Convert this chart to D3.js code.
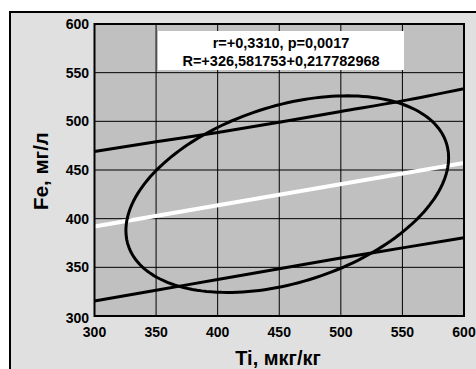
<!DOCTYPE html>
<html>
<head>
<meta charset="utf-8">
<script src="https://cdn.jsdelivr.net/npm/d3@7"></script>
<style>
  body { margin: 0; background: #fff; }
  svg { display: block; font-family: "Liberation Sans", Arial, sans-serif; font-weight: bold; }
</style>
</head>
<body>
<div id="chart"></div>
<script>
// values
const xTicks = [300, 350, 400, 450, 500, 550, 600];
const yTicks = [300, 350, 400, 450, 500, 550, 600];
const upperBand = [469, 479, 488.5, 499, 510, 521, 533.5];
const lowerBand = [315.5, 326.5, 337.5, 348.5, 359.5, 370, 380.5];
const regCoef = [326.581753, 0.217782968];
const ellipseCenter = [456.5, 425.2];
const ellipseRadius = [131, 101];
const ellipseTilt = 0.37;
const statLines = ["r=+0,3310, p=0,0017", "R=+326,581753+0,217782968"];

const width = 476, height = 369;
const plot = { left: 94.5, right: 464, top: 24, bottom: 316 };

const svg = d3.select("#chart").append("svg")
    .attr("width", width)
    .attr("height", height);

// outer panel
svg.append("rect")
   .attr("x", 10).attr("y", 12)
   .attr("width", width).attr("height", height)
   .attr("fill", "#e0e0e0");
svg.append("path")
   .attr("d", `M10,${height} V12 H${width}`)
   .attr("fill", "none").attr("stroke", "#000").attr("stroke-width", 2);

let x = d3.scaleLinear().domain([300, 600]).range([plot.left, plot.right]);
let y = d3.scaleLinear().domain([300, 600]).range([plot.bottom, plot.top]);

const g = svg.append("g");

g.append("rect")
 .attr("x", plot.left).attr("y", plot.top)
 .attr("width", plot.right - plot.left).attr("height", plot.bottom - plot.top)
 .attr("fill", "#c0c0c0");

// grid
g.selectAll(".vgrid").data(xTicks).enter().append("line")
 .attr("x1", d => x(d)).attr("x2", d => x(d))
 .attr("y1", plot.top).attr("y2", plot.bottom)
 .attr("stroke", "#000").attr("stroke-width", 1);
g.selectAll(".hgrid").data(yTicks).enter().append("line")
 .attr("y1", d => y(d)).attr("y2", d => y(d))
 .attr("x1", plot.left).attr("x2", plot.right)
 .attr("stroke", "#000").attr("stroke-width", 1);

// stats box
g.append("rect")
 .attr("x", 158).attr("y", 31).attr("width", 246).attr("height", 39)
 .attr("fill", "#fff");
g.selectAll(".stat").data(statLines).enter().append("text")
 .attr("x", 281)
 .attr("y", (d, i) => 47.5 + i * 18.3)
 .attr("text-anchor", "middle")
 .attr("font-size", 14.5)
 .text(d => d);

const clip = svg.append("clipPath").attr("id", "clip")
  .append("rect")
  .attr("x", plot.left).attr("y", plot.top)
  .attr("width", plot.right - plot.left).attr("height", plot.bottom - plot.top);

const marks = g.append("g").attr("clip-path", "url(#clip)");

const bandLine = d3.line()
  .x((d, i) => x(xTicks[i]))
  .y(d => y(d))
  .curve(d3.curveMonotoneX);

marks.append("path").datum(upperBand)
 .attr("d", bandLine)
 .attr("fill", "none").attr("stroke", "#000").attr("stroke-width", 3);
marks.append("path").datum(lowerBand)
 .attr("d", bandLine)
 .attr("fill", "none").attr("stroke", "#000").attr("stroke-width", 3);

// regression line
marks.append("line")
 .attr("x1", x(300)).attr("y1", y(regCoef[0] + regCoef[1] * 300))
 .attr("x2", x(600)).attr("y2", y(regCoef[0] + regCoef[1] * 600))
 .attr("stroke", "#fff").attr("stroke-width", 4);

// ellipse
const ell = d3.range(0, 2 * Math.PI + 0.01, Math.PI / 90).map(t => [
  ellipseCenter[0] + ellipseRadius[0] * Math.cos(t),
  ellipseCenter[1] + ellipseRadius[1] * (ellipseTilt * Math.cos(t) + Math.sqrt(1 - ellipseTilt * ellipseTilt) * Math.sin(t))
]);
marks.append("path").datum(ell)
 .attr("d", d3.line().x(d => x(d[0])).y(d => y(d[1])))
 .attr("fill", "none").attr("stroke", "#000").attr("stroke-width", 3);

// frame
g.append("rect")
 .attr("x", plot.left).attr("y", plot.top)
 .attr("width", plot.right - plot.left).attr("height", plot.bottom - plot.top)
 .attr("fill", "none").attr("stroke", "#000").attr("stroke-width", 2);

// tick labels
g.selectAll(".ylab").data(yTicks).enter().append("text")
 .attr("x", 89)
 .attr("y", d => y(d) + 5 + (d === 300 ? 2 : 0))
 .attr("text-anchor", "end")
 .attr("font-size", 14)
 .text(d => d);
g.selectAll(".xlab").data(xTicks).enter().append("text")
 .attr("x", d => x(d))
 .attr("y", 337)
 .attr("text-anchor", "middle")
 .attr("font-size", 14)
 .text(d => d);

// axis titles
svg.append("text")
 .attr("x", 278).attr("y", 365)
 .attr("text-anchor", "middle")
 .attr("font-size", 20)
 .text("Ti, мкг/кг");
svg.append("text")
 .attr("transform", "translate(48,171) rotate(-90)")
 .attr("text-anchor", "middle")
 .attr("font-size", 20.5)
 .text("Fe, мг/л");
</script>
</body>
</html>
